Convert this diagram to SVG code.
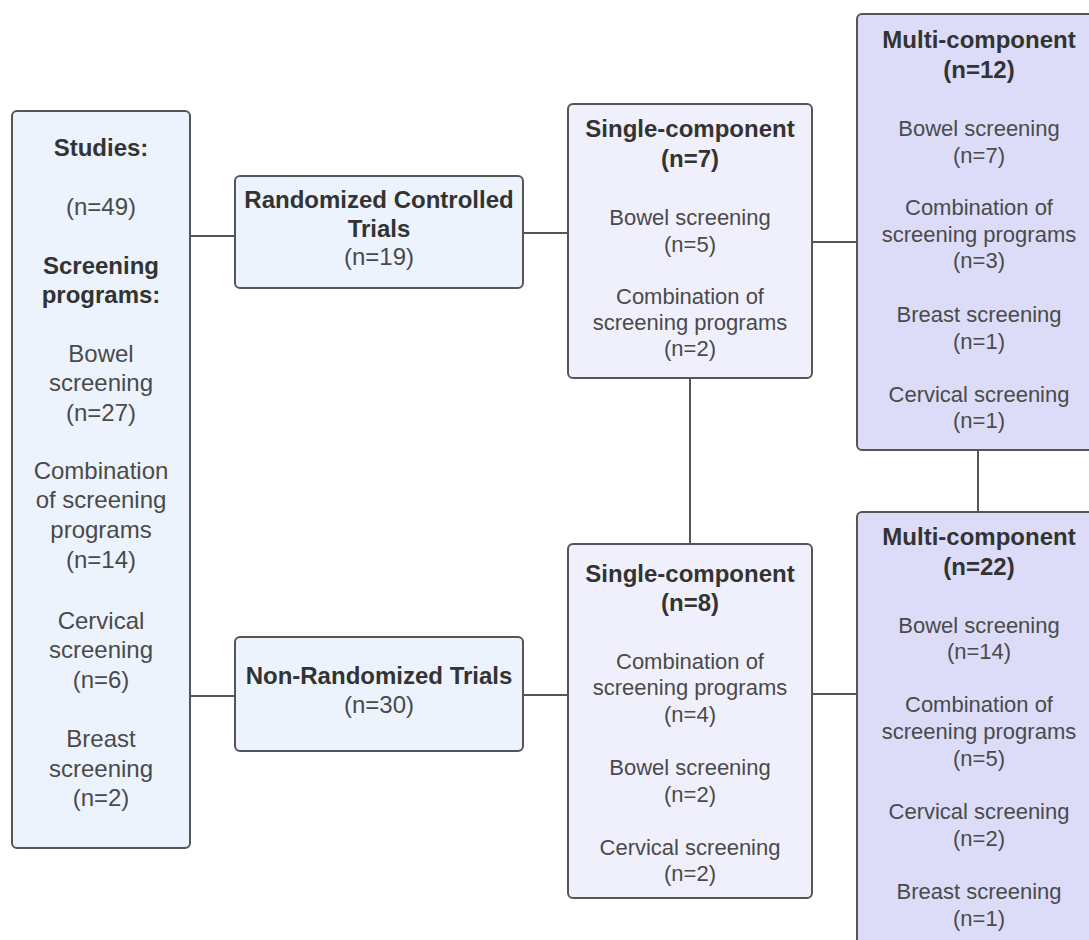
<svg xmlns="http://www.w3.org/2000/svg" width="1089" height="940" viewBox="0 0 1089 940">
<style>
.box{stroke:#555;stroke-width:2}
.blue{fill:#edf3fd}
.single{fill:#f0f0fc}
.multi{fill:#dcdcf8}
.ln{stroke:#555;stroke-width:2;fill:none}
text{font-family:"Liberation Sans",Arial,sans-serif;text-anchor:middle}
.b{font-weight:bold;font-size:24px;fill:#333}
.r{font-size:22px;fill:#4a4a4a}
.r24{font-size:24px;fill:#4a4a4a}
</style>
<rect width="1089" height="940" fill="#ffffff"/>
<g id="connectors">
<line class="ln" x1="190" y1="236" x2="235" y2="236"/>
<line class="ln" x1="190" y1="696" x2="235" y2="696"/>
<line class="ln" x1="523" y1="233" x2="568" y2="233"/>
<line class="ln" x1="523" y1="695" x2="568" y2="695"/>
<line class="ln" x1="812" y1="242" x2="857" y2="242"/>
<line class="ln" x1="812" y1="694" x2="857" y2="694"/>
<line class="ln" x1="690" y1="378" x2="690" y2="544"/>
<line class="ln" x1="978" y1="450" x2="978" y2="512"/>
</g>
<g id="studies">
<rect class="box blue" x="12" y="111" width="178" height="737" rx="5"/>
<text class="b" x="101" y="156">Studies:</text>
<text class="r24" x="101" y="215">(n=49)</text>
<text class="b" x="101" y="274">Screening</text>
<text class="b" x="101" y="303">programs:</text>
<text class="r24" x="101" y="362">Bowel</text>
<text class="r24" x="101" y="391">screening</text>
<text class="r24" x="101" y="421">(n=27)</text>
<text class="r24" x="101" y="479">Combination</text>
<text class="r24" x="101" y="508">of screening</text>
<text class="r24" x="101" y="538">programs</text>
<text class="r24" x="101" y="568">(n=14)</text>
<text class="r24" x="101" y="629">Cervical</text>
<text class="r24" x="101" y="658">screening</text>
<text class="r24" x="101" y="688">(n=6)</text>
<text class="r24" x="101" y="747">Breast</text>
<text class="r24" x="101" y="777">screening</text>
<text class="r24" x="101" y="806">(n=2)</text>
</g>
<g id="rct">
<rect class="box blue" x="235" y="176" width="288" height="112" rx="5"/>
<text class="b" x="379" y="208">Randomized Controlled</text>
<text class="b" x="379" y="237">Trials</text>
<text class="r24" x="379" y="265">(n=19)</text>
</g>
<g id="nrt">
<rect class="box blue" x="235" y="637" width="288" height="114" rx="5"/>
<text class="b" x="379" y="684">Non-Randomized Trials</text>
<text class="r24" x="379" y="713">(n=30)</text>
</g>
<g id="single7">
<rect class="box single" x="568" y="104" width="244" height="274" rx="5"/>
<text class="b" x="690" y="137">Single-component</text>
<text class="b" x="690" y="167">(n=7)</text>
<text class="r" x="690" y="225">Bowel screening</text>
<text class="r" x="690" y="252">(n=5)</text>
<text class="r" x="690" y="304">Combination of</text>
<text class="r" x="690" y="330">screening programs</text>
<text class="r" x="690" y="356">(n=2)</text>
</g>
<g id="single8">
<rect class="box single" x="568" y="544" width="244" height="354" rx="5"/>
<text class="b" x="690" y="582">Single-component</text>
<text class="b" x="690" y="611">(n=8)</text>
<text class="r" x="690" y="669">Combination of</text>
<text class="r" x="690" y="695">screening programs</text>
<text class="r" x="690" y="722">(n=4)</text>
<text class="r" x="690" y="775">Bowel screening</text>
<text class="r" x="690" y="802">(n=2)</text>
<text class="r" x="690" y="855">Cervical screening</text>
<text class="r" x="690" y="881">(n=2)</text>
</g>
<g id="multi12">
<rect class="box multi" x="857" y="14" width="246" height="436" rx="5"/>
<text class="b" x="979" y="48">Multi-component</text>
<text class="b" x="979" y="78">(n=12)</text>
<text class="r" x="979" y="136">Bowel screening</text>
<text class="r" x="979" y="163">(n=7)</text>
<text class="r" x="979" y="215">Combination of</text>
<text class="r" x="979" y="242">screening programs</text>
<text class="r" x="979" y="268">(n=3)</text>
<text class="r" x="979" y="322">Breast screening</text>
<text class="r" x="979" y="349">(n=1)</text>
<text class="r" x="979" y="402">Cervical screening</text>
<text class="r" x="979" y="428">(n=1)</text>
</g>
<g id="multi22">
<rect class="box multi" x="857" y="512" width="246" height="450" rx="5"/>
<text class="b" x="979" y="545">Multi-component</text>
<text class="b" x="979" y="575">(n=22)</text>
<text class="r" x="979" y="633">Bowel screening</text>
<text class="r" x="979" y="659">(n=14)</text>
<text class="r" x="979" y="712">Combination of</text>
<text class="r" x="979" y="739">screening programs</text>
<text class="r" x="979" y="766">(n=5)</text>
<text class="r" x="979" y="819">Cervical screening</text>
<text class="r" x="979" y="846">(n=2)</text>
<text class="r" x="979" y="899">Breast screening</text>
<text class="r" x="979" y="926">(n=1)</text>
</g>
</svg>
